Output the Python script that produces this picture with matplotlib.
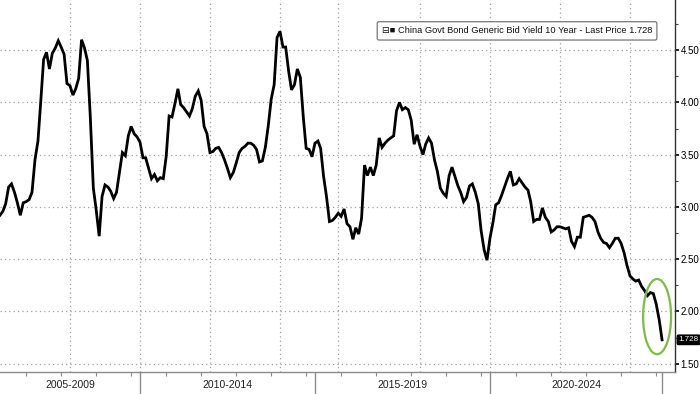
"""China 10Y government bond yield, Bloomberg-style line chart -> out.png"""

import matplotlib
matplotlib.use("Agg")
import matplotlib.dates as mdates
import matplotlib.pyplot as plt
import pandas as pd
from matplotlib.patches import Ellipse
from matplotlib.ticker import FixedLocator, MultipleLocator, FormatStrFormatter

plt.rcParams["font.family"] = ["Liberation Sans", "DejaVu Sans"]

# monthly observations, Jan 2006 .. Dec 2024
START = "2006-01-01"
YIELD_10Y = [
    2.92, 2.96, 3.03, 3.19, 3.22, 3.14, 3.04, 2.92, 3.04, 3.05, 3.07, 3.14,  # 2006
    3.45, 3.63, 3.99, 4.41, 4.48, 4.32, 4.47, 4.52, 4.59, 4.53, 4.46, 4.18,  # 2007
    4.16, 4.07, 4.13, 4.23, 4.60, 4.52, 4.40, 3.85, 3.18, 2.97, 2.72, 3.10,  # 2008
    3.21, 3.19, 3.15, 3.08, 3.14, 3.33, 3.52, 3.49, 3.68, 3.77, 3.70, 3.67,  # 2009
    3.62, 3.47, 3.47, 3.37, 3.27, 3.31, 3.25, 3.28, 3.27, 3.48, 3.87, 3.86,  # 2010
    3.99, 4.13, 3.98, 3.95, 3.91, 3.87, 3.94, 4.06, 4.11, 4.02, 3.77, 3.70,  # 2011
    3.52, 3.53, 3.56, 3.57, 3.52, 3.45, 3.37, 3.28, 3.33, 3.42, 3.52, 3.56,  # 2012
    3.58, 3.61, 3.61, 3.59, 3.55, 3.43, 3.44, 3.57, 3.78, 4.03, 4.17, 4.62,  # 2013
    4.68, 4.53, 4.53, 4.30, 4.12, 4.17, 4.32, 4.24, 3.86, 3.56, 3.55, 3.48,  # 2014
    3.61, 3.63, 3.56, 3.29, 3.10, 2.86, 2.87, 2.90, 2.94, 2.91, 2.98, 2.84,  # 2015
    2.81, 2.69, 2.80, 2.74, 2.89, 3.40, 3.30, 3.38, 3.30, 3.40, 3.66, 3.57,  # 2016
    3.61, 3.64, 3.66, 3.68, 3.92, 4.00, 3.93, 3.95, 3.93, 3.83, 3.60, 3.69,  # 2017
    3.58, 3.50, 3.60, 3.66, 3.61, 3.45, 3.34, 3.18, 3.13, 3.10, 3.30, 3.38,  # 2018
    3.29, 3.20, 3.14, 3.05, 3.09, 3.20, 3.22, 3.14, 3.03, 2.77, 2.59, 2.49,  # 2019
    2.70, 2.85, 3.02, 3.04, 3.11, 3.19, 3.27, 3.34, 3.21, 3.22, 3.27, 3.23,  # 2020
    3.19, 3.16, 3.05, 2.86, 2.88, 2.88, 2.99, 2.90, 2.86, 2.76, 2.78, 2.81,  # 2021
    2.81, 2.80, 2.79, 2.80, 2.67, 2.62, 2.71, 2.71, 2.90, 2.91, 2.92, 2.90,  # 2022
    2.86, 2.76, 2.70, 2.66, 2.65, 2.61, 2.65, 2.70, 2.70, 2.65, 2.56, 2.44,  # 2023
    2.34, 2.31, 2.29, 2.30, 2.24, 2.20, 2.15, 2.18, 2.17, 2.07, 1.92, 1.728,  # 2024
]
LAST_PRICE = 1.728
SERIES_NAME = "China Govt Bond Generic Bid Yield 10 Year - Last Price"

PERIOD_LABELS = ["2005-2009", "2010-2014", "2015-2019", "2020-2024"]
PERIOD_STARTS = ["2010-01-01", "2015-01-01", "2020-01-01"]
GRID_DATES = ["2008-01-01", "2010-01-01", "2012-01-01", "2014-01-01", "2015-09-01",
              "2018-01-01", "2020-01-01", "2022-01-01", "2024-01-01"]
Y_TICKS = [1.50, 2.00, 2.50, 3.00, 3.50, 4.00, 4.50]

X_RIGHT = "2025-04-15"
Y_LIM = (1.42, 4.98)

GRID = "#a0a0a0"
AXIS = "#8c8c8c"
GREEN = "#7dbb4a"

dates = pd.date_range(START, periods=len(YIELD_10Y), freq="MS")

fig = plt.figure(figsize=(7, 3.94), dpi=100)
ax = fig.add_axes([0, 22 / 394, 675 / 700, 372 / 394])

ax.plot(dates, YIELD_10Y, color="black", lw=2.0, solid_joinstyle="miter", zorder=3)

x_left = dates[0]
x_end = dates[-1]
ax.set_xlim(x_left, pd.Timestamp(X_RIGHT))
ax.set_ylim(*Y_LIM)

# dotted grid
ax.yaxis.set_major_locator(FixedLocator(Y_TICKS))
ax.yaxis.set_minor_locator(MultipleLocator(0.25))
ax.yaxis.grid(True, color=GRID, linestyle=(0, (1, 2.5)), linewidth=0.9)
for d in GRID_DATES:
    ax.axvline(pd.Timestamp(d), color=GRID, linestyle=(0, (1, 2.5)), linewidth=0.9, zorder=1)

# right value axis
ax.yaxis.tick_right()
ax.yaxis.set_major_formatter(FormatStrFormatter("%.2f"))
ax.tick_params(axis="y", which="major", direction="out", length=3, width=1.2,
               color="black", labelsize=7, pad=1)
ax.tick_params(axis="y", which="minor", direction="out", length=2, width=0.8, color="#444")

# bottom axis: period separators as long ticks, yearly minor ticks
seps = [pd.Timestamp(s) for s in PERIOD_STARTS] + [x_end]
ax.xaxis.set_major_locator(FixedLocator(mdates.date2num(seps)))
ax.xaxis.set_minor_locator(mdates.YearLocator(1, month=10))
ax.tick_params(axis="x", which="major", direction="out", length=16, width=1,
               color=AXIS, labelbottom=False)
ax.tick_params(axis="x", which="minor", direction="out", length=3, width=0.8, color=AXIS)

bounds = [x_left] + seps
for label, a, b in zip(PERIOD_LABELS, bounds[:-1], bounds[1:]):
    mid = a + (b - a) / 2
    ax.text(mid, -0.035, label, transform=ax.get_xaxis_transform(),
            ha="center", va="center", fontsize=7.5, color="#222")

for side in ("top", "left"):
    ax.spines[side].set_visible(False)
ax.spines["right"].set_color("#333")
ax.spines["right"].set_linewidth(1)
ax.spines["bottom"].set_color(AXIS)
ax.spines["bottom"].set_linewidth(1)

# legend box
ax.text(0.766, 0.917, f"\u229f\u25a0 {SERIES_NAME} {LAST_PRICE:.3f}", transform=ax.transAxes,
        ha="center", va="center", fontsize=6.7, color="#111", zorder=5,
        bbox=dict(boxstyle="round,pad=0.5,rounding_size=0.2", fc="white", ec="#777", lw=0.9))

# last price tag
ax.annotate(f"{LAST_PRICE:.3f}", xy=(1, LAST_PRICE), xycoords=("axes fraction", "data"),
            xytext=(2.5, 0), textcoords="offset points", ha="left", va="center",
            color="white", fontsize=5.8, annotation_clip=False,
            bbox=dict(boxstyle="round,pad=0.15", fc="black", ec="black"))

# highlight ring around the latest drop
ring = Ellipse((mdates.date2num(pd.Timestamp("2024-10-10")), 1.95), width=292, height=0.72,
               fill=False, edgecolor=GREEN, lw=1.6, zorder=4)
ax.add_patch(ring)

fig.savefig("out.png", dpi=100, facecolor="white")
